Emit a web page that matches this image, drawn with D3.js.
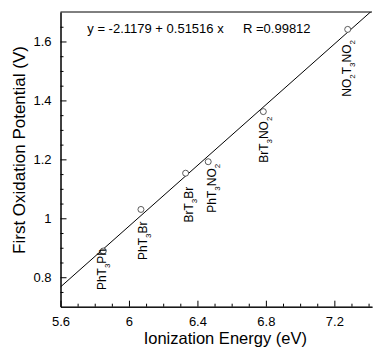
<!DOCTYPE html>
<html><head><meta charset="utf-8">
<script src="https://cdn.jsdelivr.net/npm/d3@7/dist/d3.min.js"></script>
<style>body{margin:0;background:#fff}svg{display:block;font-family:"Liberation Sans",Arial,sans-serif}</style>
</head><body>
<script>
// Data
const compounds = ["PhT3Ph","PhT3Br","BrT3Br","PhT3NO2","BrT3NO2","NO2T3NO2"];
const ionizationEnergy = [5.850, 6.070, 6.331, 6.463, 6.785, 7.278];
const oxidationPotential = [0.889, 1.030, 1.153, 1.192, 1.362, 1.641];
// label parts: [text, isSubscript]
const labelParts = [
  [["PhT",0],["3",1],["Ph",0]],
  [["PhT",0],["3",1],["Br",0]],
  [["BrT",0],["3",1],["Br",0]],
  [["PhT",0],["3",1],["NO",0],["2",1]],
  [["BrT",0],["3",1],["NO",0],["2",1]],
  [["NO",0],["2",1],["T",0],["3",1],["NO",0],["2",1]]
];
// label anchor (data units): baseline x, top end y
const labelX = [5.866, 6.108, 6.376, 6.511, 6.815, 7.297];
const labelY = [0.896, 0.989, 1.107, 1.185, 1.345, 1.605];
const fitIntercept = -2.1179, fitSlope = 0.51516, fitR = 0.99812;
const xMajorTicks = [5.6, 6.0, 6.4, 6.8, 7.2];
const xMinorTicks = [5.7,5.8,5.9,6.1,6.2,6.3,6.5,6.6,6.7,6.9,7.0,7.1,7.3,7.4];
const yMajorTicks = [0.8, 1.0, 1.2, 1.4, 1.6];
const yMinorTicks = d3.range(0.75, 1.7, 0.05).filter(v => Math.abs(Math.round(v*10)/10 - v) > 1e-6 || Math.round(v*10)%2===1);
const xDomain = [5.6, 7.42], yDomain = [0.7, 1.7];

const W = 376, H = 350;
const m = {left: 60.5, top: 12, right: 4, bottom: 43.3};
const svg = d3.select("body").append("svg").attr("width", W).attr("height", H);
const x = d3.scaleLinear().domain(xDomain).range([m.left, W - m.right]);
const y = d3.scaleLinear().domain(yDomain).range([H - m.bottom, m.top]);

svg.append("clipPath").attr("id","clip").append("rect")
  .attr("x", m.left).attr("y", m.top).attr("width", W - m.right - m.left).attr("height", H - m.bottom - m.top);

// fit line
const xs = [xDomain[0], xDomain[1]];
svg.append("line").attr("clip-path","url(#clip)")
  .attr("x1", x(xs[0])).attr("y1", y(fitIntercept + fitSlope*xs[0]))
  .attr("x2", x(xs[1])).attr("y2", y(fitIntercept + fitSlope*xs[1]))
  .attr("stroke","#000").attr("stroke-width",1);

// axes
const xAxis = d3.axisBottom(x).tickValues(xMajorTicks).tickSizeInner(-6).tickSizeOuter(0).tickPadding(12).tickFormat(d3.format("~g"));
const gx = svg.append("g").attr("transform",`translate(0,${H - m.bottom})`).call(xAxis);
const xMinor = d3.axisBottom(x).tickValues(xMinorTicks).tickSizeInner(-3).tickSizeOuter(0).tickFormat("");
const gx2 = svg.append("g").attr("transform",`translate(0,${H - m.bottom})`).call(xMinor);
const yAxis = d3.axisLeft(y).tickValues(yMajorTicks).tickSizeInner(-6).tickSizeOuter(0).tickPadding(9).tickFormat(d3.format("~g"));
const gy = svg.append("g").attr("transform",`translate(${m.left},0)`).call(yAxis);
const yMinor = d3.axisLeft(y).tickValues(yMinorTicks).tickSizeInner(-3).tickSizeOuter(0).tickFormat("");
const gy2 = svg.append("g").attr("transform",`translate(${m.left},0)`).call(yMinor);
[gx,gx2,gy,gy2].forEach(g => {
  g.selectAll("path,line").attr("stroke","#000").attr("stroke-width",1);
  g.selectAll("text").attr("fill","#000").attr("font-size",13).attr("font-family","Liberation Sans, Arial, sans-serif");
});
gx.selectAll("text").attr("dy","0.71em").attr("y", 10);
// top border
svg.append("line").attr("x1", m.left).attr("x2", W - m.right).attr("y1", m.top).attr("y2", m.top).attr("stroke","#000");

// points
svg.append("g").selectAll("circle").data(ionizationEnergy).join("circle")
  .attr("cx", d => x(d)).attr("cy", (d,i) => y(oxidationPotential[i])).attr("r", 3)
  .attr("fill","#fff").attr("stroke","#333").attr("stroke-width",0.8);

// labels
const lg = svg.append("g");
labelParts.forEach((parts, i) => {
  const t = lg.append("text")
    .attr("transform", `translate(${x(labelX[i])},${y(labelY[i])}) rotate(-90)`)
    .attr("text-anchor","end").attr("font-size",12).attr("fill","#000");
  let shifted = false;
  parts.forEach(([s, sub]) => {
    const ts = t.append("tspan").text(s);
    if (sub && !shifted) { ts.attr("dy", 4).attr("font-size", 8); shifted = true; }
    else if (sub && shifted) { ts.attr("font-size", 8); }
    else if (!sub && shifted) { ts.attr("dy", -4); shifted = false; }
  });
});

// equation
svg.append("text").attr("x", 87.3).attr("y", 32.5).attr("font-size",13).attr("fill","#000")
  .text(`y = ${fitIntercept} + ${fitSlope} x`);
svg.append("text").attr("x", 243).attr("y", 32.5).attr("font-size",13).attr("fill","#000")
  .text(`R =${fitR}`);

// axis titles
svg.append("text").attr("x", 225.3).attr("y", 343.5).attr("text-anchor","middle").attr("font-size",16.5).attr("fill","#000")
  .text("Ionization Energy (eV)");
svg.append("text").attr("transform","translate(25,150) rotate(-90)").attr("text-anchor","middle").attr("font-size",17).attr("fill","#000")
  .text("First Oxidation Potential (V)");
</script>
</body></html>
